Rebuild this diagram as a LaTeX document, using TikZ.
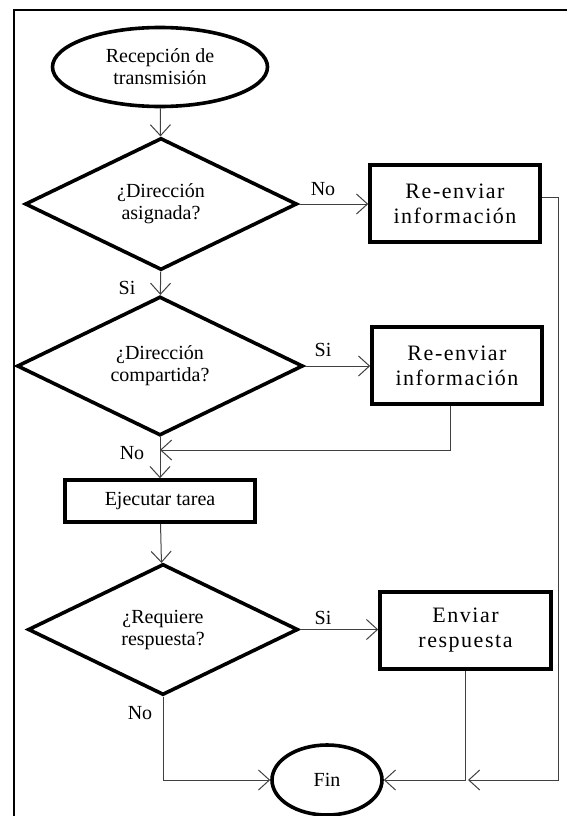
\documentclass[tikz,border=0pt]{standalone}
\usepackage{fontspec}
\setmainfont{Liberation Serif}
\usetikzlibrary{shapes.geometric,arrows.meta}
\begin{document}
\begin{tikzpicture}[x=1pt,y=-1pt,
  sbase/.style={draw, line width=3.6pt, inner sep=0pt, align=center, font=\fontsize{20}{22}\selectfont},
  term/.style={sbase, ellipse},
  dec/.style={sbase, diamond},
  bigbox/.style={sbase, rectangle, font=\fontsize{22}{25}\selectfont\addfontfeature{LetterSpace=7}},
  smallbox/.style={sbase, rectangle},
  conn/.style={draw=black!75, line width=1pt, -{Straight Barb[length=11pt,width=20pt]}},
  line/.style={draw=black!75, line width=1pt},
  lbl/.style={font=\fontsize{20}{22}\selectfont, inner sep=0pt}
]
\useasboundingbox (0,0) rectangle (567,816);
\draw[line width=2.5pt] (14,816) -- (14,10) -- (567,10);

\node[term, minimum width=215pt, minimum height=79pt] (start) at (160,67) {Recepción de\\transmisión};
\node[dec, minimum width=272pt, minimum height=132pt] (d1) at (161,204) {¿Dirección\\asignada?};
\node[dec, minimum width=286pt, minimum height=132pt] (d2) at (160,366) {¿Dirección\\compartida?};
\node[smallbox, minimum width=190pt, minimum height=42pt] (ejec) at (160,501) {Ejecutar tarea};
\node[dec, minimum width=270pt, minimum height=131pt] (d3) at (163,629.5) {¿Requiere\\respuesta?};
\node[bigbox, minimum width=170pt, minimum height=77pt] (b1) at (455,203.5) {Re-enviar\\información};
\node[bigbox, minimum width=170pt, minimum height=77pt] (b2) at (457,365.5) {Re-enviar\\información};
\node[bigbox, minimum width=171pt, minimum height=77pt] (b3) at (465.5,630.5) {Enviar\\respuesta};
\node[term, minimum width=110pt, minimum height=70pt] (fin) at (327,780) {Fin};

\coordinate (r1) at (558,197);
\coordinate (r2) at (558,780);
\coordinate (rend) at (468,780);
\coordinate (b2c) at (450,450);
\coordinate (b2e) at (160,450);
\coordinate (d3c) at (163,780);
\coordinate (b3c) at (465,780);

\path[conn] (start) -- (d1);
\path[conn] (d1.east) -- (b1.west |- d1.east);
\path[conn] (d1) -- (d2);
\path[conn] (d2.east) -- (b2.west |- d2.east);
\path[conn] (d2) -- (ejec);
\path[conn] (ejec) -- (d3);
\path[conn] (d3.east) -- (b3.west |- d3.east);
\path[conn] (d3.south) -- (d3c) -- (fin.west);
\path[conn] (b3.south -| b3c) -- (b3c) -- (fin.east);
\path[conn] (b1.east |- r1) -- (r1) -- (r2) -- (rend);
\path[conn] (b2.south -| b2c) -- (b2c) -- (b2e);

\node[lbl] (l1) at (323,189) {No};
\node[lbl] (l2) at (127,288) {Si};
\node[lbl] (l3) at (323,350) {Si};
\node[lbl] (l4) at (132,453) {No};
\node[lbl] (l5) at (323,618) {Si};
\node[lbl] (l6) at (140,713) {No};
\end{tikzpicture}
\end{document}
